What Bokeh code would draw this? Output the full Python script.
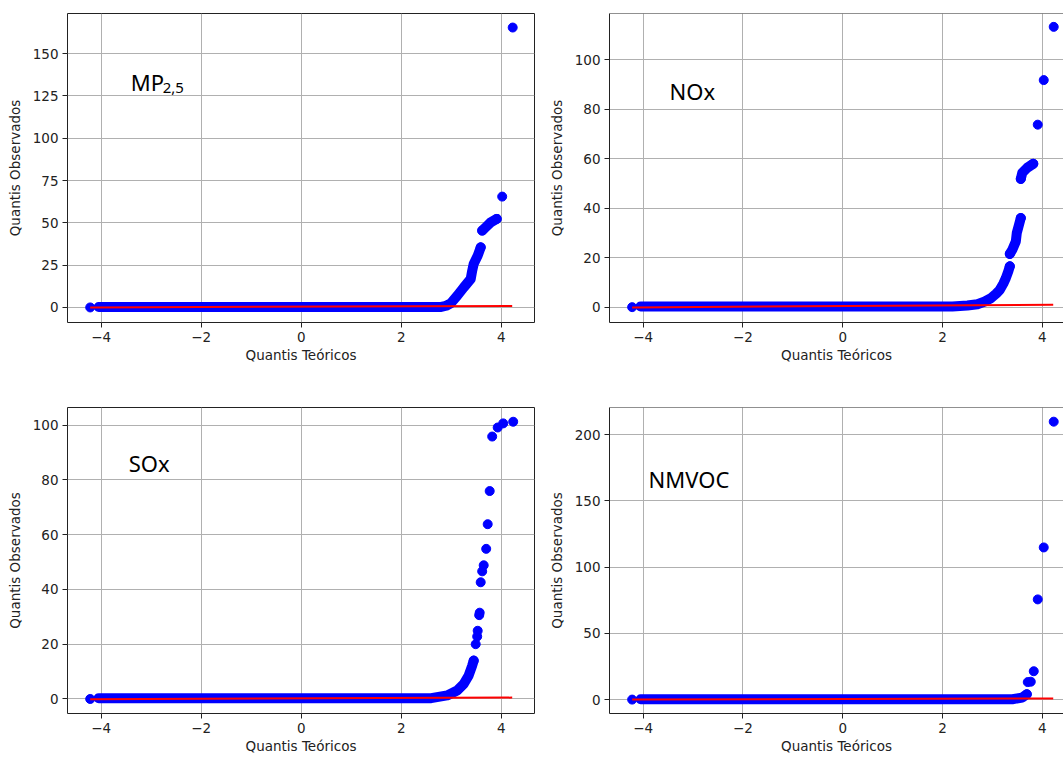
from bokeh.plotting import figure
from bokeh.layouts import row, column
from bokeh.models import Label, Span, Range1d
from bokeh.embed import file_html
from bokeh.resources import INLINE

# ---------------- data ----------------
x_ticks = [-4, -2, 0, 2, 4]
x_tick_labels = ["\u22124", "\u22122", "0", "2", "4"]

# MP2,5
mp_y_ticks = [0, 25, 50, 75, 100, 125, 150]
mp_segs_x = [[-4.05, 2.80, 2.90, 2.99, 3.12, 3.25, 3.39, 3.42, 3.45, 3.53, 3.59],
             [3.62, 3.69, 3.79, 3.91]]
mp_segs_y = [[0.3, 0.3, 1.0, 2.4, 6.9, 11.8, 16.8, 21.7, 25.7, 30.6, 35.5],
             [45.4, 47.4, 50.3, 52.3]]
mp_pts_x = [-4.22, 3.59, 3.62, 3.91, 4.02, 4.23]
mp_pts_y = [0.0, 35.5, 45.4, 52.3, 65.5, 165.4]
mp_fit_x = [-4.22, 4.22]
mp_fit_y = [0.0, 0.9]

# NOx
nox_y_ticks = [0, 20, 40, 60, 80, 100]
nox_segs_x = [[-4.05, 2.20, 2.50, 2.70, 2.85, 2.97, 3.08, 3.15, 3.22, 3.27, 3.32, 3.35],
              [3.35, 3.40, 3.47, 3.49, 3.53, 3.57],
              [3.57, 3.60, 3.70, 3.82]]
nox_segs_y = [[0.3, 0.3, 0.7, 1.2, 2.3, 3.6, 5.5, 7.0, 9.5, 11.7, 14.5, 16.5],
              [21.5, 23.2, 26.5, 30.0, 33.0, 36.0],
              [51.8, 54.3, 56.3, 57.9]]
nox_pts_x = [-4.22, 3.35, 3.35, 3.57, 3.57, 3.82, 3.91, 4.03, 4.23]
nox_pts_y = [0.0, 16.5, 21.5, 36.0, 51.8, 57.9, 73.7, 91.7, 113.2]
nox_fit_x = [-4.22, 4.22]
nox_fit_y = [-0.1, 1.0]

# SOx
sox_y_ticks = [0, 20, 40, 60, 80, 100]
sox_segs_x = [[-4.05, 2.60, 2.92, 3.12, 3.25, 3.35, 3.42, 3.45]]
sox_segs_y = [[0.3, 0.3, 1.3, 3.1, 5.5, 8.6, 12.2, 14.0]]
sox_pts_x = [-4.22, 3.45, 3.49, 3.52, 3.53, 3.56, 3.57, 3.59, 3.62, 3.65, 3.70,
             3.73, 3.77, 3.82, 3.93, 4.04, 4.24]
sox_pts_y = [0.0, 14.0, 20.0, 22.8, 24.9, 30.6, 31.5, 42.6, 46.6, 48.8, 54.8,
             63.8, 75.9, 95.8, 99.1, 100.6, 101.2]
sox_fit_x = [-4.22, 4.22]
sox_fit_y = [-0.1, 0.5]

# NMVOC
nmvoc_y_ticks = [0, 50, 100, 150, 200]
nmvoc_segs_x = [[-4.05, 3.40, 3.60, 3.69]]
nmvoc_segs_y = [[0.3, 0.3, 1.5, 4.0]]
nmvoc_pts_x = [-4.22, 3.69, 3.71, 3.77, 3.83, 3.91, 4.03, 4.23]
nmvoc_pts_y = [0.0, 4.0, 13.2, 13.5, 21.4, 75.6, 114.8, 209.7]
nmvoc_fit_x = [-4.22, 4.22]
nmvoc_fit_y = [0.0, 0.8]

TICK_FONT = "DejaVu Sans"
INK = "#222222"


def make_panel(width, height, mbl, mbr, mbt, mbb, xr, yr, yticks,
               segs_x, segs_y, pts_x, pts_y, fit_x, fit_y, full_outline):
    p = figure(width=width, height=height, output_backend="svg",
               toolbar_location=None, x_range=Range1d(*xr), y_range=Range1d(*yr),
               min_border_left=mbl, min_border_right=mbr,
               min_border_top=mbt, min_border_bottom=mbb)
    p.background_fill_color = "white"
    p.border_fill_color = "white"
    if full_outline:
        p.outline_line_color = INK
        p.outline_line_width = 1
        p.outline_line_alpha = 1
    else:
        p.outline_line_color = None
        p.add_layout(Span(location=yr[1], dimension="width",
                          line_color=INK, line_width=1))

    p.xaxis.ticker = x_ticks
    p.xaxis.major_label_overrides = {t: s for t, s in zip(x_ticks, x_tick_labels)}
    p.yaxis.ticker = yticks
    p.xaxis.axis_label = "Quantis Te\u00f3ricos"
    p.yaxis.axis_label = "Quantis Observados"
    for ax in (p.xaxis, p.yaxis):
        ax.axis_label_text_font = TICK_FONT
        ax.axis_label_text_font_style = "normal"
        ax.axis_label_text_font_size = "13.5px"
        ax.axis_label_text_color = INK
        ax.major_label_text_font = TICK_FONT
        ax.major_label_text_font_size = "13.5px"
        ax.major_label_text_color = INK
        ax.major_tick_out = 5
        ax.major_tick_in = 0
        ax.minor_tick_out = 0
        ax.minor_tick_in = 0
        ax.major_tick_line_color = INK
        ax.axis_line_color = None if full_outline else INK
        ax.major_label_standoff = 4
    p.xaxis.axis_label_standoff = 2
    p.yaxis.axis_label_standoff = 7

    for g in (p.xgrid, p.ygrid):
        g.grid_line_color = "#b0b0b0"
        g.grid_line_width = 1
        g.grid_line_alpha = 1

    # dense cloud of points (overlapping markers) drawn as thick strokes
    p.multi_line(xs=segs_x, ys=segs_y, line_color="blue", line_width=10,
                 line_cap="round", line_join="round")
    p.scatter(pts_x, pts_y, size=9, color="blue", line_color="blue")
    p.line(fit_x, fit_y, line_color="red", line_width=2)
    return p


p1 = make_panel(545, 390, 67, 11, 13, 68, (-4.674, 4.666), (-8.9, 173.7), mp_y_ticks,
                mp_segs_x, mp_segs_y, mp_pts_x, mp_pts_y, mp_fit_x, mp_fit_y, True)
p2 = make_panel(518, 390, 63, 0, 13, 68, (-4.674, 4.426), (-6.2, 118.6), nox_y_ticks,
                nox_segs_x, nox_segs_y, nox_pts_x, nox_pts_y, nox_fit_x, nox_fit_y, False)
p3 = make_panel(545, 370, 67, 11, 17, 45, (-4.674, 4.666), (-5.3, 106.4), sox_y_ticks,
                sox_segs_x, sox_segs_y, sox_pts_x, sox_pts_y, sox_fit_x, sox_fit_y, True)
p4 = make_panel(518, 370, 63, 0, 15, 47, (-4.674, 4.426), (-10.5, 220.4), nmvoc_y_ticks,
                nmvoc_segs_x, nmvoc_segs_y, nmvoc_pts_x, nmvoc_pts_y, nmvoc_fit_x, nmvoc_fit_y, False)

ANN_FONT = "Noto Sans"
p1.add_layout(Label(x=-3.41, y=133.2, text="MP", text_font=ANN_FONT,
                    text_font_size="22px", text_color="black", text_baseline="alphabetic"))
p1.add_layout(Label(x=-3.41, y=133.2, x_offset=32, y_offset=-6, text="2,5", text_font=ANN_FONT,
                    text_font_size="15px", text_color="black", text_baseline="alphabetic"))
p2.add_layout(Label(x=-3.47, y=87.3, text="NOx", text_font=ANN_FONT,
                    text_font_size="22px", text_color="black", text_baseline="alphabetic"))
p3.add_layout(Label(x=-3.45, y=86.1, text="SOx", text_font=ANN_FONT,
                    text_font_size="22px", text_color="black", text_baseline="alphabetic"))
p4.add_layout(Label(x=-3.89, y=166.7, text="NMVOC", text_font=ANN_FONT,
                    text_font_size="22px", text_color="black", text_baseline="alphabetic"))

layout = column(row(p1, p2), row(p3, p4))
open("out.html", "w").write(file_html(layout, INLINE))
